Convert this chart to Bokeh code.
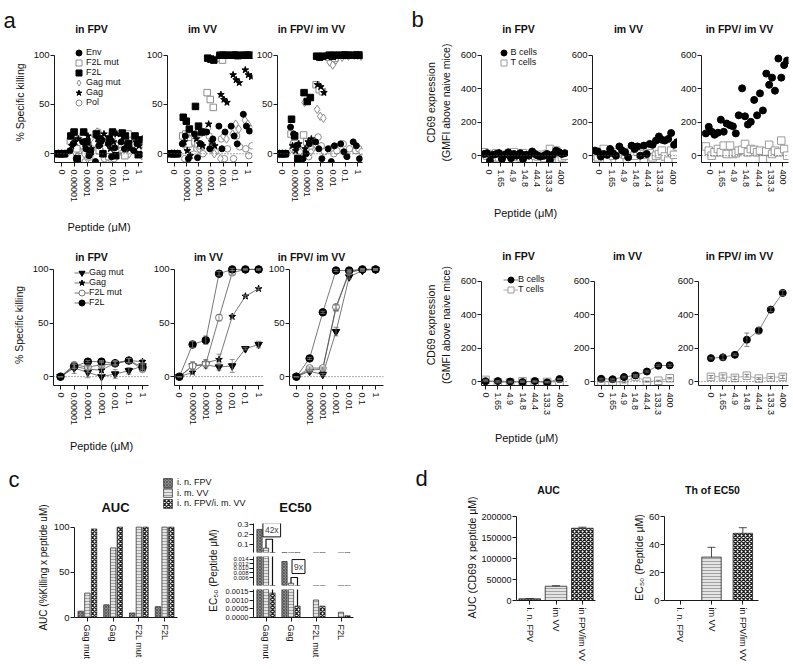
import math
import numpy as np
from bokeh.plotting import figure
from bokeh.layouts import row, column
from bokeh.models import (Range1d, FixedTicker, Span, Label, Legend, LegendItem,
                          ColumnDataSource, Whisker, TeeHead, PrintfTickFormatter,
                          BasicTickFormatter)
from bokeh.embed import file_html
from bokeh.resources import INLINE

FONT = "Liberation Sans"
NAN = float("nan")

# ------------------------------------------------------------------ data
conc_a = ["0", "0.00001", "0.0001", "0.001", "0.01", "0.1", "1"]
conc_b = ["0", "1.65", "4.9", "14.8", "44.4", "133.3", "400"]
titles = ["in FPV", "im VV", "in FPV/ im VV"]
x_title = "Peptide (\u03bcM)"

series_a = ["Env", "F2L mut", "F2L", "Gag mut", "Gag", "Pol"]
# % specific killing, 3 replicates per concentration (panel a, top row)
kill_fpv = {
    "Env":     [[0, 0, 0], [3, 10, -5], [12, 5, -2], [-8, 8, 14], [10, -3, 6], [12, 5, 8], [3, 10, -1]],
    "F2L mut": [[0, 0, 0], [13, 20, 5], [18, 8, -3], [20, 3, 12], [-3, 18, 8], [10, -2, 20], [15, 5, 10]],
    "F2L":     [[0, 0, 0], [18, 22, -5], [22, 12, 2], [20, 15, 0], [15, 22, -2], [21, 18, 10], [18, -1, 14]],
    "Gag mut": [[0, 0, 0], [10, 2, 5], [0, -5, 15], [22, 5, 0], [-5, 10, 3], [2, 15, 0], [5, 10, -2]],
    "Gag":     [[0, 0, 0], [8, 12, 15], [10, 18, 5], [15, 10, 20], [5, 12, 20], [18, 10, 5], [12, 8, 15]],
    "Pol":     [[0, 0, 0], [12, 5, 3], [-8, 10, 5], [22, 2, -5], [15, -5, 8], [0, 12, 5], [3, 8, 15]],
}
kill_vv = {
    "Env":     [[0, 0, 0], [10, 18, -5], [20, -4, 10], [22, 5, 15], [28, 5, 22], [28, 18, 10], [40, 28, 23]],
    "F2L mut": [[0, 0, 0], [18, 20, 10], [12, 10, 8], [62, 55, 47], [97, 95, 100], [100, 100, 99], [100, 100, 100]],
    "F2L":     [[0, 0, 0], [37, 33, 25], [48, 28, 22], [97, 96, 95], [100, 100, 100], [100, 100, 100], [100, 100, 100]],
    "Gag mut": [[0, 0, 0], [10, 5, 15], [20, 5, 8], [26, 5, 0], [-5, 18, 15], [20, 30, 25], [34, 30, 25]],
    "Gag":     [[0, 0, 0], [12, 3, -2], [15, 10, 8], [30, 12, 8], [60, 55, 52], [80, 75, 72], [85, 80, 78]],
    "Pol":     [[0, 0, 0], [-5, 15, 5], [5, 20, 0], [18, 10, 2], [15, -5, 5], [-5, 18, 7], [5, -2, 8]],
}
kill_comb = {
    "Env":     [[0, 0, 0], [27, 20, 8], [-5, 0, 10], [12, 5, -5], [5, -8, 8], [10, 2, -3], [12, 8, -5]],
    "F2L mut": [[0, 0, 0], [20, 10, 8], [19, 12, 8], [70, 65, 63], [98, 100, 97], [100, 100, 100], [100, 100, 100]],
    "F2L":     [[0, 0, 0], [35, 18, -5], [62, 53, 57], [99, 98, 99], [100, 99, 100], [100, 100, 100], [100, 100, 100]],
    "Gag mut": [[0, 0, 0], [5, 2, 8], [52, 5, 2], [45, 38, 36], [93, 90, 95], [98, 100, 99], [100, 100, 99]],
    "Gag":     [[0, 0, 0], [8, 3, 10], [5, 12, 15], [70, 68, 62], [99, 98, 100], [100, 100, 100], [100, 100, 100]],
    "Pol":     [[0, 0, 0], [10, 5, 2], [0, -3, 5], [17, 8, 2], [5, 0, 3], [10, -2, 5], [3, 5, 2]],
}

# panel a, bottom row: mean +/- SEM
series_ab = ["Gag mut", "Gag", "F2L mut", "F2L"]
kmean_fpv = {"Gag mut": [0, 8, 4, 0, 2.5, 5.5, 10], "Gag": [0, 9.5, 7, 6, 13, 15, 14],
             "F2L mut": [0, 11, 9, 11, 12, 15, 7], "F2L": [0, 9.5, 14, 14, 12.5, 15, 9]}
ksem_fpv = {"Gag mut": [0, 5, 5, 10, 4, 3, 3], "Gag": [0, 2, 3, 4, 2, 2, 2],
            "F2L mut": [0, 2, 2, 3, 2, 2, 2], "F2L": [0, 2, 1, 1, 1.5, 2, 2]}
kmean_vv = {"Gag mut": [0, 10, 11, 9, 10, 26, 30], "Gag": [0, 4, 13, 16, 56, 75, 82],
            "F2L mut": [0, 10, 12, 55, 97, 100, 100], "F2L": [0, 30, 34, 96, 100, 100, 100]}
ksem_vv = {"Gag mut": [0, 4, 3, 3, 6, 1, 3], "Gag": [0, 2, 3, 5, 2, 1, 1],
           "F2L mut": [0, 3, 2, 3, 2, 0.5, 0.5], "F2L": [0, 3, 4, 2, 1, 0.5, 0.5]}
kmean_comb = {"Gag mut": [0, 5, 2, 42, 93, 99, 100], "Gag": [0, 6, 7, 64, 97, 100, 100],
              "F2L mut": [0, 8, 8, 65, 98, 100, 100], "F2L": [0, 17, 60, 99, 99, 100, 100]}
ksem_comb = {"Gag mut": [0, 1, 1, 4, 2, 1, 0.5], "Gag": [0, 1, 1, 3, 1, 0.5, 0.5],
             "F2L mut": [0, 1, 1, 2, 1, 0.5, 0.5], "F2L": [0, 1, 1, 1, 1, 0.5, 0.5]}

# panel b, top row: CD69 GMFI, 4 replicates per concentration
cells = ["B cells", "T cells"]
cd69_fpv_b = [[10, 15, -30, 5], [10, 15, -20, 5], [20, -15, 10, 0], [15, -20, 5, 0], [25, 10, 0, -5], [0, 10, -30, 5], [30, 20, 10, 15]]
cd69_fpv_t = [[20, 0, 10, -10], [15, -10, 0, 5], [-20, 5, 20, -5], [-10, 15, 0, -20], [10, 0, -5, 5], [-15, 10, 40, 0], [30, -30, -10, 0]]
cd69_vv_b = [[30, 25, -5, 10], [5, 40, 15, 0], [55, 30, 20, -10], [60, 40, 55, 0], [60, 10, 70, 65], [90, 115, 95, 90], [100, 135, 65, 80]]
cd69_vv_t = [[0, -10, 20, 40], [-20, 5, 0, 20], [-30, 10, 5, 20], [30, 0, 25, 10], [-25, 5, 15, -10], [0, 10, 30, -5], [-30, 30, 5, 55]]
cd69_comb_b = [[133, 172, 143, 125], [137, 215, 143, 192], [182, 175, 133, 241], [402, 235, 186, 202], [333, 241, 372, 270], [490, 423, 466, 388], [580, 466, 541, 568]]
cd69_comb_t = [[55, 30, 0, 20], [40, 20, 60, 10], [60, 10, 15, 30], [35, 70, 20, 40], [35, 20, 30, -20], [25, 65, 10, 30], [20, 90, 40, 0]]

# panel b, bottom row: mean +/- SEM
cmean_fpv = {"B cells": [2, 3, 0, -3, 3, -5, 15], "T cells": [10, -5, -5, 2, -3, -2, -3]}
csem_fpv = {"B cells": [3, 3, 3, 3, 3, 3, 3], "T cells": [3, 3, 3, 3, 3, 3, 3]}
cmean_vv = {"B cells": [17, 14, 27, 37, 60, 95, 97], "T cells": [0, 0, -5, 30, 0, 5, 20]}
csem_vv = {"B cells": [3, 3, 5, 5, 4, 5, 6], "T cells": [3, 3, 3, 5, 3, 3, 4]}
cmean_comb = {"B cells": [140, 145, 160, 250, 305, 430, 530], "T cells": [28, 30, 22, 35, 18, 25, 28]}
csem_comb = {"B cells": [5, 15, 5, 40, 20, 12, 15], "T cells": [8, 10, 10, 8, 5, 6, 10]}

# panel c
cats_c = ["Gag mut", "Gag", "F2L mut", "F2L"]
groups_c = ["i. n. FPV", "i. m. VV", "i. n. FPV/i. m. VV"]
auc_fpv = [7, 14, 5, 12]
auc_vv = [27, 77, 100, 100]
auc_comb = [98, 100, 100, 100]
ec50_fpv = [0.25, 0.013, NAN, NAN]
ec50_vv = [0.06, 0.0035, 0.001, 0.0003]
ec50_comb = [0.0014, 0.00065, 0.00065, 0.0001]
fold_text = ["42x", "9x"]

# panel d
groups_d = ["i. n. FPV", "im VV", "in FPV/im VV"]
auc_d = [4000, 34000, 172000]
auc_d_err = [600, 1200, 2500]
th_d = [0, 31, 48]
th_d_err = [0, 7, 4]

# ------------------------------------------------------------------ styles
style_a = {
    "Env": ("circle", 6, "black", "black"),
    "F2L mut": ("square", 6.5, "white", "#8c8c8c"),
    "F2L": ("square", 6.5, "black", "black"),
    "Gag mut": ("diamond", 8.5, "white", "#8c8c8c"),
    "Gag": ("star", 7, "black", "black"),
    "Pol": ("circle", 6.5, "white", "#8c8c8c"),
}
draw_order_a = ["Pol", "Gag mut", "F2L mut", "Env", "Gag", "F2L"]
style_ab = {
    "Gag mut": ("inverted_triangle", 7.5, "black", "black"),
    "Gag": ("star", 7, "black", "black"),
    "F2L mut": ("circle", 7, "white", "#777777"),
    "F2L": ("circle", 7.5, "black", "black"),
}
style_cells = {"B cells": ("circle", 7, "black", "black"),
               "T cells": ("square", 7.5, "white", "#9a9a9a")}
FPV_ST = dict(fill_color="#8f8f8f", hatch_pattern="x", hatch_color="#3a3a3a", hatch_scale=3, hatch_weight=0.6)
VV_ST = dict(fill_color="#e4e4e4", hatch_pattern="-", hatch_color="#9a9a9a", hatch_scale=3, hatch_weight=0.9)
COMB_ST = dict(fill_color="white", hatch_pattern="x", hatch_color="#222222", hatch_scale=4, hatch_weight=1.3)
BAR_STYLES = [FPV_ST, VV_ST, COMB_ST]


def lin_range(pa, va, pb, vb, p_start, p_end):
    k = (vb - va) / (pb - pa)
    return Range1d(va + (p_start - pa) * k, va + (p_end - pa) * k)


def mkfig(outer, frame, xr, yr, xaxis=True, yaxis=True):
    ox0, oy0, ox1, oy1 = outer
    fx0, fy0, fx1, fy1 = frame
    p = figure(width=ox1 - ox0, height=oy1 - oy0, x_range=xr, y_range=yr, title=None,
               output_backend="svg", toolbar_location=None,
               x_axis_location="below" if xaxis else None,
               y_axis_location="left" if yaxis else None,
               min_border_left=fx0 - ox0, min_border_right=ox1 - fx1,
               min_border_top=fy0 - oy0, min_border_bottom=oy1 - fy1)
    p.outline_line_color = None
    p.grid.visible = False
    for ax in p.axis:
        ax.axis_line_color = "#1a1a1a"
        ax.axis_line_width = 1
        ax.major_tick_line_color = "#1a1a1a"
        ax.major_tick_out = 4
        ax.major_tick_in = 0
        ax.minor_tick_line_color = None
        ax.major_label_text_font = FONT
        ax.major_label_text_color = "#111111"
        ax.axis_label_text_font = FONT
        ax.axis_label_text_font_style = "normal"
        ax.axis_label_text_font_size = "10.5px"
        ax.axis_label_text_color = "#111111"
    p.xaxis.major_label_text_font_size = "9px"
    p.xaxis.major_label_standoff = 3
    p.yaxis.major_label_text_font_size = "9.5px"
    p.yaxis.major_label_standoff = 1
    return p


def strip(outer, frame=None):
    """Text-only canvas; its frame is where labels may be drawn."""
    frame = frame or outer
    ox0, oy0, ox1, oy1 = outer
    fx0, fy0, fx1, fy1 = frame
    p = figure(width=ox1 - ox0, height=oy1 - oy0, x_range=Range1d(0, 1), y_range=Range1d(0, 1),
               title=None, output_backend="svg", toolbar_location=None,
               x_axis_location=None, y_axis_location=None,
               min_border_left=fx0 - ox0, min_border_right=ox1 - fx1,
               min_border_top=fy0 - oy0, min_border_bottom=oy1 - fy1)
    p.outline_line_color = None
    p.grid.visible = False
    return p


def txt(p, frame, x, y, text, size, bold=False, align="center", baseline="middle", angle=0.0):
    fx0, fy0, fx1, fy1 = frame
    p.add_layout(Label(x=x - fx0, y=fy1 - y, x_units="screen", y_units="screen", text=text,
                       text_font=FONT, text_font_size=f"{size}px",
                       text_font_style="bold" if bold else "normal", text_color="#111111",
                       text_align=align, text_baseline=baseline, angle=angle))


def cat_x(p, labels):
    p.xaxis.ticker = FixedTicker(ticks=list(range(len(labels))))
    p.xaxis.major_label_overrides = {i: s for i, s in enumerate(labels)}
    p.xaxis.major_label_orientation = "vertical"


def zero_line(p):
    p.add_layout(Span(location=0, dimension="width", line_color="#555555", line_width=1, line_dash="1 2"))


def add_legend(p, frame, items, left, first_center, pitch, box=15, font="9px", standoff=0):
    """One single-entry legend per item, so the row pitch can be set freely."""
    fx0, fy0, fx1, fy1 = frame
    for k, it in enumerate(items):
        c = first_center + k * pitch
        lg = Legend(items=[it], location=(left - fx0, fy1 - (c + box / 2.0)))
        lg.border_line_color = None
        lg.background_fill_alpha = 0
        lg.padding = 0
        lg.margin = 0
        lg.spacing = 0
        lg.label_standoff = standoff
        lg.glyph_width = box
        lg.glyph_height = box
        lg.label_height = box
        lg.label_text_font = FONT
        lg.label_text_font_size = font
        lg.label_text_color = "#111111"
        p.add_layout(lg)


def whisk(p, src, color, head=5, lower=True):
    p.add_layout(Whisker(source=src, base="x", lower="lo", upper="hi", level="glyph",
                         line_color=color, line_width=0.8,
                         upper_head=TeeHead(size=head, line_color=color, line_width=0.8),
                         lower_head=TeeHead(size=head, line_color=color, line_width=0.8) if lower else None))


# ------------------------------------------------------------------ row A (top)
SA = (0, 0, 790, 42)
stripA = strip(SA)
txt(stripA, SA, 3, 20, "a", 22, align="left", baseline="alphabetic")
txt(stripA, SA, 411, 19, "b", 22, align="left", baseline="alphabetic")
for (tx, ty), t in zip([(91, 28), (202, 28), (311, 28)], titles):
    txt(stripA, SA, tx, ty, t, 10.5, bold=True)
for (tx, ty), t in zip([(518, 28), (628, 28), (739, 28)], titles):
    txt(stripA, SA, tx, ty, t, 10.5, bold=True)

SA2 = (0, 205, 790, 232)
stripA2 = strip(SA2)
txt(stripA2, SA2, 98.5, 226, x_title, 11)
txt(stripA2, SA2, 525, 212, x_title, 11)

A_OUT = [(0, 42, 143, 205), (143, 42, 253, 205), (253, 42, 366, 205)]
A_FR = [(54, 42, 142, 165), (165, 42, 252, 165), (275, 42, 362, 165)]
A_TICK = [(61, 138), (172, 247), (280, 357)]
figs_a_top = []
for k, data in enumerate([kill_fpv, kill_vv, kill_comb]):
    fr = A_FR[k]
    xr = lin_range(A_TICK[k][0], 0, A_TICK[k][1], 6, fr[0], fr[2])
    yr = lin_range(156, 0, 55, 100, fr[3], fr[1])
    p = mkfig(A_OUT[k], fr, xr, yr)
    p.yaxis.ticker = FixedTicker(ticks=[0, 50, 100])
    p.yaxis.bounds = (yr.start, 100)
    cat_x(p, conc_a)
    zero_line(p)
    rend = {}
    for name in draw_order_a:
        s = series_a.index(name)
        xs, ys = [], []
        for i, reps in enumerate(data[name]):
            for r, v in enumerate(reps):
                xs.append(i + (r - 1) * 0.25 + (s - 2.5) * 0.04)
                ys.append(v)
        mk, sz, fc, lc = style_a[name]
        rend[name] = p.scatter(xs, ys, marker=mk, size=sz, fill_color=fc, line_color=lc, line_width=1)
    if k == 0:
        add_legend(p, fr, [LegendItem(label=n, renderers=[rend[n]]) for n in series_a],
                   71, 55, 10)
        p.yaxis.axis_label = "% Specific killing"
        p.yaxis.axis_label_standoff = 5
    figs_a_top.append(p)

B_OUT = [(366, 42, 568, 205), (568, 42, 677, 205), (677, 42, 790, 205)]
B_FR = [(481, 42, 568, 165), (590, 42, 677, 165), (698, 42, 788, 165)]
B_TICK = [(488, 560), (597, 672), (707, 782)]
rep_off_b = [-0.36, -0.12, 0.12, 0.36]
figs_b_top = []
for k, (bd, td) in enumerate([(cd69_fpv_b, cd69_fpv_t), (cd69_vv_b, cd69_vv_t), (cd69_comb_b, cd69_comb_t)]):
    fr = B_FR[k]
    xr = lin_range(B_TICK[k][0], 0, B_TICK[k][1], 6, fr[0], fr[2])
    yr = lin_range(158, 0, 55, 600, fr[3], fr[1])
    p = mkfig(B_OUT[k], fr, xr, yr)
    p.yaxis.ticker = FixedTicker(ticks=[0, 200, 400, 600])
    p.yaxis.bounds = (yr.start, 600)
    cat_x(p, conc_b)
    zero_line(p)
    rend = {}
    for name, data in [("T cells", td), ("B cells", bd)]:
        xs, ys = [], []
        for i, reps in enumerate(data):
            for r, v in enumerate(reps):
                xs.append(i + rep_off_b[r])
                ys.append(v)
        mk, sz, fc, lc = style_cells[name]
        rend[name] = p.scatter(xs, ys, marker=mk, size=sz, fill_color=fc, line_color=lc, line_width=1)
    if k == 0:
        add_legend(p, fr, [LegendItem(label=n, renderers=[rend[n]]) for n in cells],
                   495.5, 55, 10)
        p.yaxis.axis_label = "CD69 expression\n(GMFI above naive mice)"
        p.yaxis.axis_label_standoff = 6
    figs_b_top.append(p)

# ------------------------------------------------------------------ row B (middle)
SB = (0, 232, 790, 264)
stripB = strip(SB)
for (tx, ty), t in zip([(91, 256), (208, 256), (311, 256)], titles):
    txt(stripB, SB, tx, ty, t, 10.5, bold=True)
for (tx, ty), t in zip([(518, 255), (627, 255), (739, 255)], titles):
    txt(stripB, SB, tx, ty, t, 10.5, bold=True)

SB2 = (0, 428, 790, 452)
stripB2 = strip(SB2)
txt(stripB2, SB2, 101, 445, x_title, 11)
txt(stripB2, SB2, 526, 437, x_title, 11)

A2_OUT = [(0, 264, 150, 428), (150, 264, 265, 428), (265, 264, 385, 428)]
A2_FR = [(53, 264, 148, 387), (172, 264, 263, 387), (288, 264, 383, 387)]
A2_TICK = [(60, 142), (177, 258), (295, 375)]
figs_a_bot = []
for k, (means, sems) in enumerate([(kmean_fpv, ksem_fpv), (kmean_vv, ksem_vv), (kmean_comb, ksem_comb)]):
    fr = A2_FR[k]
    xr = lin_range(A2_TICK[k][0], 0, A2_TICK[k][1], 6, fr[0], fr[2])
    yr = lin_range(378, 0, 269, 100, fr[3], fr[1])
    p = mkfig(A2_OUT[k], fr, xr, yr)
    p.yaxis.ticker = FixedTicker(ticks=[0, 50, 100])
    p.yaxis.bounds = (yr.start, 100)
    cat_x(p, conc_a)
    zero_line(p)
    items = []
    for name in series_ab:
        m, e = means[name], sems[name]
        src = ColumnDataSource(dict(x=list(range(len(m))), y=m,
                                    lo=[a - b for a, b in zip(m, e)], hi=[a + b for a, b in zip(m, e)]))
        whisk(p, src, "#777777", head=5)
        ln = p.line("x", "y", source=src, line_color="#555555", line_width=0.8)
        mk, sz, fc, lc = style_ab[name]
        sc = p.scatter("x", "y", source=src, marker=mk, size=sz, fill_color=fc, line_color=lc, line_width=1)
        items.append(LegendItem(label=name, renderers=[ln, sc]))
    if k == 0:
        add_legend(p, fr, items, 74, 274, 10)
        p.yaxis.axis_label = "% Specific killing"
        p.yaxis.axis_label_standoff = 5
    figs_a_bot.append(p)

B2_OUT = [(385, 264, 570, 428), (570, 264, 674, 428), (674, 264, 790, 428)]
B2_FR = [(481, 264, 568, 387), (590, 264, 674, 387), (694, 264, 788, 387)]
B2_TICK = [(485, 559), (597, 669), (707, 782)]
cell_line = {"B cells": "#666666", "T cells": "#9a9a9a"}
figs_b_bot = []
for k, (means, sems) in enumerate([(cmean_fpv, csem_fpv), (cmean_vv, csem_vv), (cmean_comb, csem_comb)]):
    fr = B2_FR[k]
    xr = lin_range(B2_TICK[k][0], 0, B2_TICK[k][1], 6, fr[0], fr[2])
    yr = lin_range(383, 0, 281, 600, fr[3], fr[1])
    p = mkfig(B2_OUT[k], fr, xr, yr)
    p.yaxis.ticker = FixedTicker(ticks=[0, 200, 400, 600])
    p.yaxis.bounds = (yr.start, 600)
    cat_x(p, conc_b)
    zero_line(p)
    rend = {}
    for name in ["T cells", "B cells"]:
        m, e = means[name], sems[name]
        src = ColumnDataSource(dict(x=list(range(len(m))), y=m,
                                    lo=[a - b for a, b in zip(m, e)], hi=[a + b for a, b in zip(m, e)]))
        whisk(p, src, "#666666", head=5)
        ln = p.line("x", "y", source=src, line_color=cell_line[name], line_width=0.8)
        mk, sz, fc, lc = style_cells[name]
        sc = p.scatter("x", "y", source=src, marker=mk, size=sz, fill_color=fc, line_color=lc, line_width=1)
        rend[name] = [ln, sc]
    if k == 0:
        add_legend(p, fr, [LegendItem(label=n, renderers=rend[n]) for n in cells],
                   503, 281, 10)
        p.yaxis.axis_label = "CD69 expression\n(GMFI above naive mice)"
        p.yaxis.axis_label_standoff = 6
    figs_b_bot.append(p)

# ------------------------------------------------------------------ row C : panel c
YC = (0, 452, 50, 664)
ylabC = strip(YC)
txt(ylabC, YC, 8, 479, "c", 22, align="left", baseline="alphabetic")
txt(ylabC, YC, 43, 567, "AUC (%Killing x peptide uM)", 10, angle=math.pi / 2)

HC = (50, 452, 400, 515)
ph = strip(HC)
# invisible proxies (outside the 0..1 range) that carry the legend styles
leg_r = [ph.vbar(x=[-5], top=[-5], bottom=[-6], width=0.1, line_color="#222222", line_width=0.7, **st)
         for st in BAR_STYLES]
add_legend(ph, HC, [LegendItem(label=g, renderers=[r]) for g, r in zip(groups_c, leg_r)],
           162, 482, 10.5, box=11, font="9px", standoff=4)
txt(ph, HC, 115, 507, "AUC", 13, bold=True)
txt(ph, HC, 295, 507, "EC50", 13, bold=True)

bar_off = [-0.26, 0.0, 0.26]
AC_FR = (72, 523, 177, 617)
pc = mkfig((50, 515, 185, 664), AC_FR, Range1d(-0.5, 3.5), Range1d(0, 104))
pc.yaxis.ticker = FixedTicker(ticks=[0, 50, 100])
pc.yaxis.bounds = (0, 100)
cat_x(pc, cats_c)
for vals, off, st in zip([auc_fpv, auc_vv, auc_comb], bar_off, BAR_STYLES):
    pc.vbar(x=[i + off for i in range(len(vals))], top=vals, bottom=0, width=0.21,
            line_color="#222222", line_width=0.7, **st)

YE_OUT = (185, 515, 222, 664)
YE_FR = (185, 523, 222, 617)
ylabE = strip(YE_OUT, YE_FR)
txt(ylabE, YE_FR, 213, 570, "EC\u2085\u2080 (Peptide \u03bcM)", 10, angle=math.pi / 2)

SEGS = [
    dict(out=(222, 515, 400, 553), fr=(252, 523, 353, 552), yr=(0.015, 0.31),
         ticks=[0.1, 0.2, 0.3], fmt="%.1f", font="8px", xaxis=False),
    dict(out=(222, 553, 400, 587), fr=(252, 556, 353, 585), yr=(0.0025, 0.0152),
         ticks=[0.006, 0.008, 0.010, 0.012, 0.014], fmt="%.3f", font="6px", xaxis=False),
    dict(out=(222, 587, 400, 664), fr=(252, 589, 353, 617), yr=(0.0, 0.0016),
         ticks=[0.0, 0.0005, 0.0010, 0.0015], fmt="%.4f", font="7.5px", xaxis=True),
]
bracket_top = [0.15, 0.006]
seg_figs = []
for j, sg in enumerate(SEGS):
    p = mkfig(sg["out"], sg["fr"], Range1d(-0.5, 3.5), Range1d(*sg["yr"]), xaxis=sg["xaxis"])
    p.yaxis.ticker = FixedTicker(ticks=sg["ticks"])
    p.yaxis.formatter = PrintfTickFormatter(format=sg["fmt"])
    p.yaxis.major_label_text_font_size = sg["font"]
    if sg["xaxis"]:
        cat_x(p, cats_c)
    for vals, off, st in zip([ec50_fpv, ec50_vv, ec50_comb], bar_off, BAR_STYLES):
        p.vbar(x=[i + off for i in range(len(vals))], top=np.array(vals, dtype=float), bottom=0, width=0.21,
               line_color="#222222", line_width=0.7, **st)
    bx, by = [], []
    for i in range(len(fold_text)):
        bx.append([i + bar_off[1], i + bar_off[1], i + bar_off[2], i + bar_off[2]])
        by.append([ec50_vv[i], bracket_top[i], bracket_top[i], ec50_comb[i]])
    p.multi_line(bx, by, line_color="#111111", line_width=1.2)
    seg_figs.append(p)

seg_figs[0].add_layout(Label(x=0.23, y=0.245, text=fold_text[0], text_font=FONT, text_font_size="8.5px",
                             text_align="center", text_baseline="middle", border_line_color="#111111",
                             background_fill_color="white", padding=2))
seg_figs[1].add_layout(Label(x=1.3, y=0.0108, text=fold_text[1], text_font=FONT, text_font_size="8.5px",
                             text_align="center", text_baseline="middle", border_line_color="#111111",
                             background_fill_color="white", padding=2))

# ------------------------------------------------------------------ row C : panel d
YD1 = (400, 452, 478, 664)
ylabD1 = strip(YD1)
txt(ylabD1, YD1, 415, 478, "d", 22, align="left", baseline="alphabetic")
txt(ylabD1, YD1, 471, 557, "AUC (CD69 x peptide \u03bcM)", 10.5, angle=math.pi / 2)

HD1_OUT = (478, 452, 600, 505)
HD1_FR = (515, 452, 595, 505)
hd1 = strip(HD1_OUT, HD1_FR)
txt(hd1, HD1_FR, 547, 489, "AUC", 10.5, bold=True)

D1_FR = (515, 516, 595, 601)
pd1 = mkfig((478, 505, 600, 664), D1_FR, Range1d(-0.5, 2.5), Range1d(0, 200000))
pd1.yaxis.ticker = FixedTicker(ticks=[0, 50000, 100000, 150000, 200000])
pd1.yaxis.formatter = BasicTickFormatter(use_scientific=False)
pd1.yaxis.major_label_text_font_size = "9px"
cat_x(pd1, groups_d)
for i, st in enumerate(BAR_STYLES):
    pd1.vbar(x=[i], top=[auc_d[i]], bottom=0, width=0.82, line_color="#222222", line_width=0.8, **st)
src = ColumnDataSource(dict(x=list(range(3)), lo=auc_d, hi=[a + b for a, b in zip(auc_d, auc_d_err)]))
whisk(pd1, src, "#222222", head=8, lower=False)

YD2 = (600, 452, 645, 664)
ylabD2 = strip(YD2)
txt(ylabD2, YD2, 638, 557, "EC\u2085\u2080 (Peptide \u03bcM)", 10.5, angle=math.pi / 2)

HD2_OUT = (645, 452, 790, 505)
HD2_FR = (661, 452, 758, 505)
hd2 = strip(HD2_OUT, HD2_FR)
txt(hd2, HD2_FR, 709, 489, "Th of EC50", 10.5, bold=True)

D2_FR = (661, 516, 758, 601)
pd2 = mkfig((645, 505, 790, 664), D2_FR, Range1d(-0.5, 2.5), Range1d(0, 60))
pd2.yaxis.ticker = FixedTicker(ticks=[0, 20, 40, 60])
cat_x(pd2, groups_d)
for i, st in enumerate(BAR_STYLES):
    pd2.vbar(x=[i], top=[th_d[i]], bottom=0, width=0.62, line_color="#222222", line_width=0.8, **st)
src2 = ColumnDataSource(dict(x=list(range(3)), lo=th_d, hi=[a + b for a, b in zip(th_d, th_d_err)]))
whisk(pd2, src2, "#222222", head=8, lower=False)

# ------------------------------------------------------------------ layout
rowA = column(stripA, row(*figs_a_top, *figs_b_top), stripA2)
rowB = column(stripB, row(*figs_a_bot, *figs_b_bot), stripB2)
rowC = row(ylabC,
           column(ph, row(pc, ylabE, column(*seg_figs))),
           ylabD1, column(hd1, pd1),
           ylabD2, column(hd2, pd2))
page = column(rowA, rowB, rowC)

open("out.html", "w").write(file_html(page, INLINE))
